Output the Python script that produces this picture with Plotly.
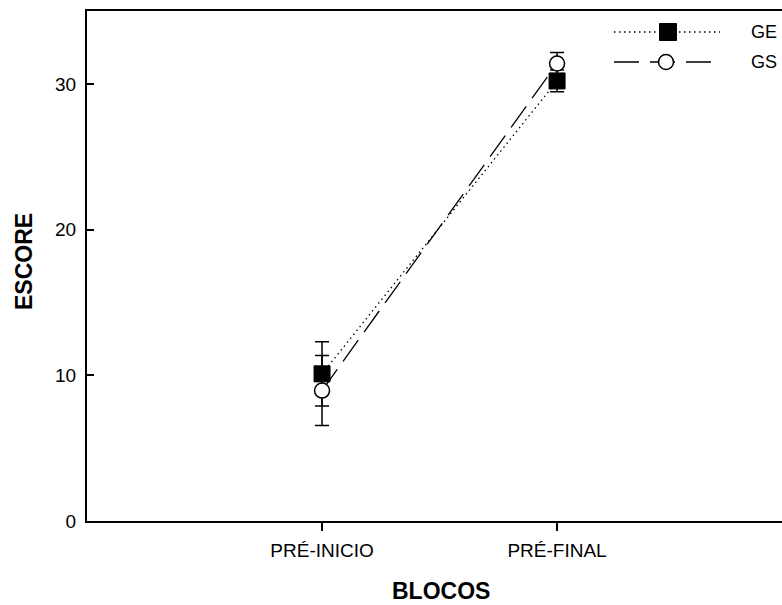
import plotly.graph_objects as go

# ---- data ----
blocos = ["PRÉ-INICIO", "PRÉ-FINAL"]
block_pos = [1, 2]
ge_mean = [10.1, 30.2]
ge_err = [2.2, 0.75]
gs_mean = [8.95, 31.4]
gs_err = [2.4, 0.75]
y_ticks = [0, 10, 20, 30]

FONT = "Arial, Liberation Sans, sans-serif"
DOT = "1.5px,3.5px"
LDASH = "26px,10px"

fig = go.Figure()

fig.add_trace(go.Scatter(
    x=block_pos, y=ge_mean, name="GE", mode="lines+markers",
    line=dict(color="black", width=1.3, dash=DOT),
    marker=dict(symbol="square", size=16, color="black", line=dict(color="black", width=1)),
    error_y=dict(type="data", array=ge_err, visible=True, color="black", thickness=1.5, width=7),
    showlegend=False,
))
fig.add_trace(go.Scatter(
    x=block_pos, y=gs_mean, name="GS", mode="lines+markers",
    line=dict(color="black", width=1.3, dash=LDASH),
    marker=dict(symbol="circle", size=15, color="white", line=dict(color="black", width=1.5)),
    error_y=dict(type="data", array=gs_err, visible=True, color="black", thickness=1.5, width=7),
    showlegend=False,
))

# ---- manual legend (layout decoration); page coords -> paper ----
L, R, T, B = 87, 782, 11, 521
W, H = R - L, B - T
def px(x):
    return (x - L) / W
def py(y):
    return (B - y) / H

shapes = []
rows = [("GE", 32, DOT, "square"), ("GS", 62, "25px,11px", "circle")]
for name, yrow, dash, sym in rows:
    shapes.append(dict(type="line", xref="paper", yref="paper",
                       x0=px(614), x1=px(720), y0=py(yrow), y1=py(yrow),
                       line=dict(color="black", width=1.3, dash=dash), layer="above"))
    if sym == "square":
        shapes.append(dict(type="rect", xref="paper", yref="paper",
                           x0=px(668 - 8.5), x1=px(668 + 8.5), y0=py(yrow + 8.5), y1=py(yrow - 8.5),
                           fillcolor="black", line=dict(color="black", width=1), layer="above"))
    else:
        shapes.append(dict(type="circle", xref="paper", yref="paper",
                           x0=px(666 - 7.5), x1=px(666 + 7.5), y0=py(yrow + 7.5), y1=py(yrow - 7.5),
                           fillcolor="white", line=dict(color="black", width=1.5), layer="above"))

annotations = [
    dict(text="GE", xref="paper", yref="paper", x=px(749), y=py(32), xanchor="left", yanchor="middle",
         showarrow=False, font=dict(family=FONT, size=18, color="black")),
    dict(text="GS", xref="paper", yref="paper", x=px(749), y=py(62), xanchor="left", yanchor="middle",
         showarrow=False, font=dict(family=FONT, size=18, color="black")),
    dict(text="<b>BLOCOS</b>", xref="paper", yref="paper", x=px(440.7), y=py(591), xanchor="center",
         yanchor="middle", showarrow=False, font=dict(family=FONT, size=23, color="black")),
    dict(text="<b>ESCORE</b>", xref="paper", yref="paper", x=px(24), y=py(262), xanchor="center",
         yanchor="middle", textangle=-90, showarrow=False, font=dict(family=FONT, size=23, color="black")),
]

# The original frame is cropped at the right edge (no right border).
fig.update_layout(
    width=782, height=605,
    margin=dict(l=87, r=0, t=11, b=84),
    paper_bgcolor="white", plot_bgcolor="white",
    font=dict(family=FONT, size=19, color="black"),
    shapes=shapes, annotations=annotations,
    showlegend=False,
)
fig.update_xaxes(
    range=[0, 2.957], tickvals=block_pos, ticktext=blocos,
    showline=True, linecolor="black", linewidth=2, mirror=True,
    ticks="outside", ticklen=8, tickwidth=1.5, tickcolor="black",
    showgrid=False, zeroline=False, ticklabelstandoff=3,
    tickfont=dict(family=FONT, size=19, color="black"),
)
fig.update_yaxes(
    range=[0, 35], tickvals=y_ticks,
    showline=True, linecolor="black", linewidth=2, mirror=False,
    ticks="inside", ticklen=7, tickwidth=1.5, tickcolor="black",
    showgrid=False, zeroline=False, ticklabelstandoff=5,
    tickfont=dict(family=FONT, size=19, color="black"),
)

# remove the default page margin so the figure fills the 782x605 window exactly
fig.write_html(
    "out.html",
    config={"displayModeBar": False},
    post_script="document.body.style.margin='0';document.body.style.overflow='hidden';",
)
